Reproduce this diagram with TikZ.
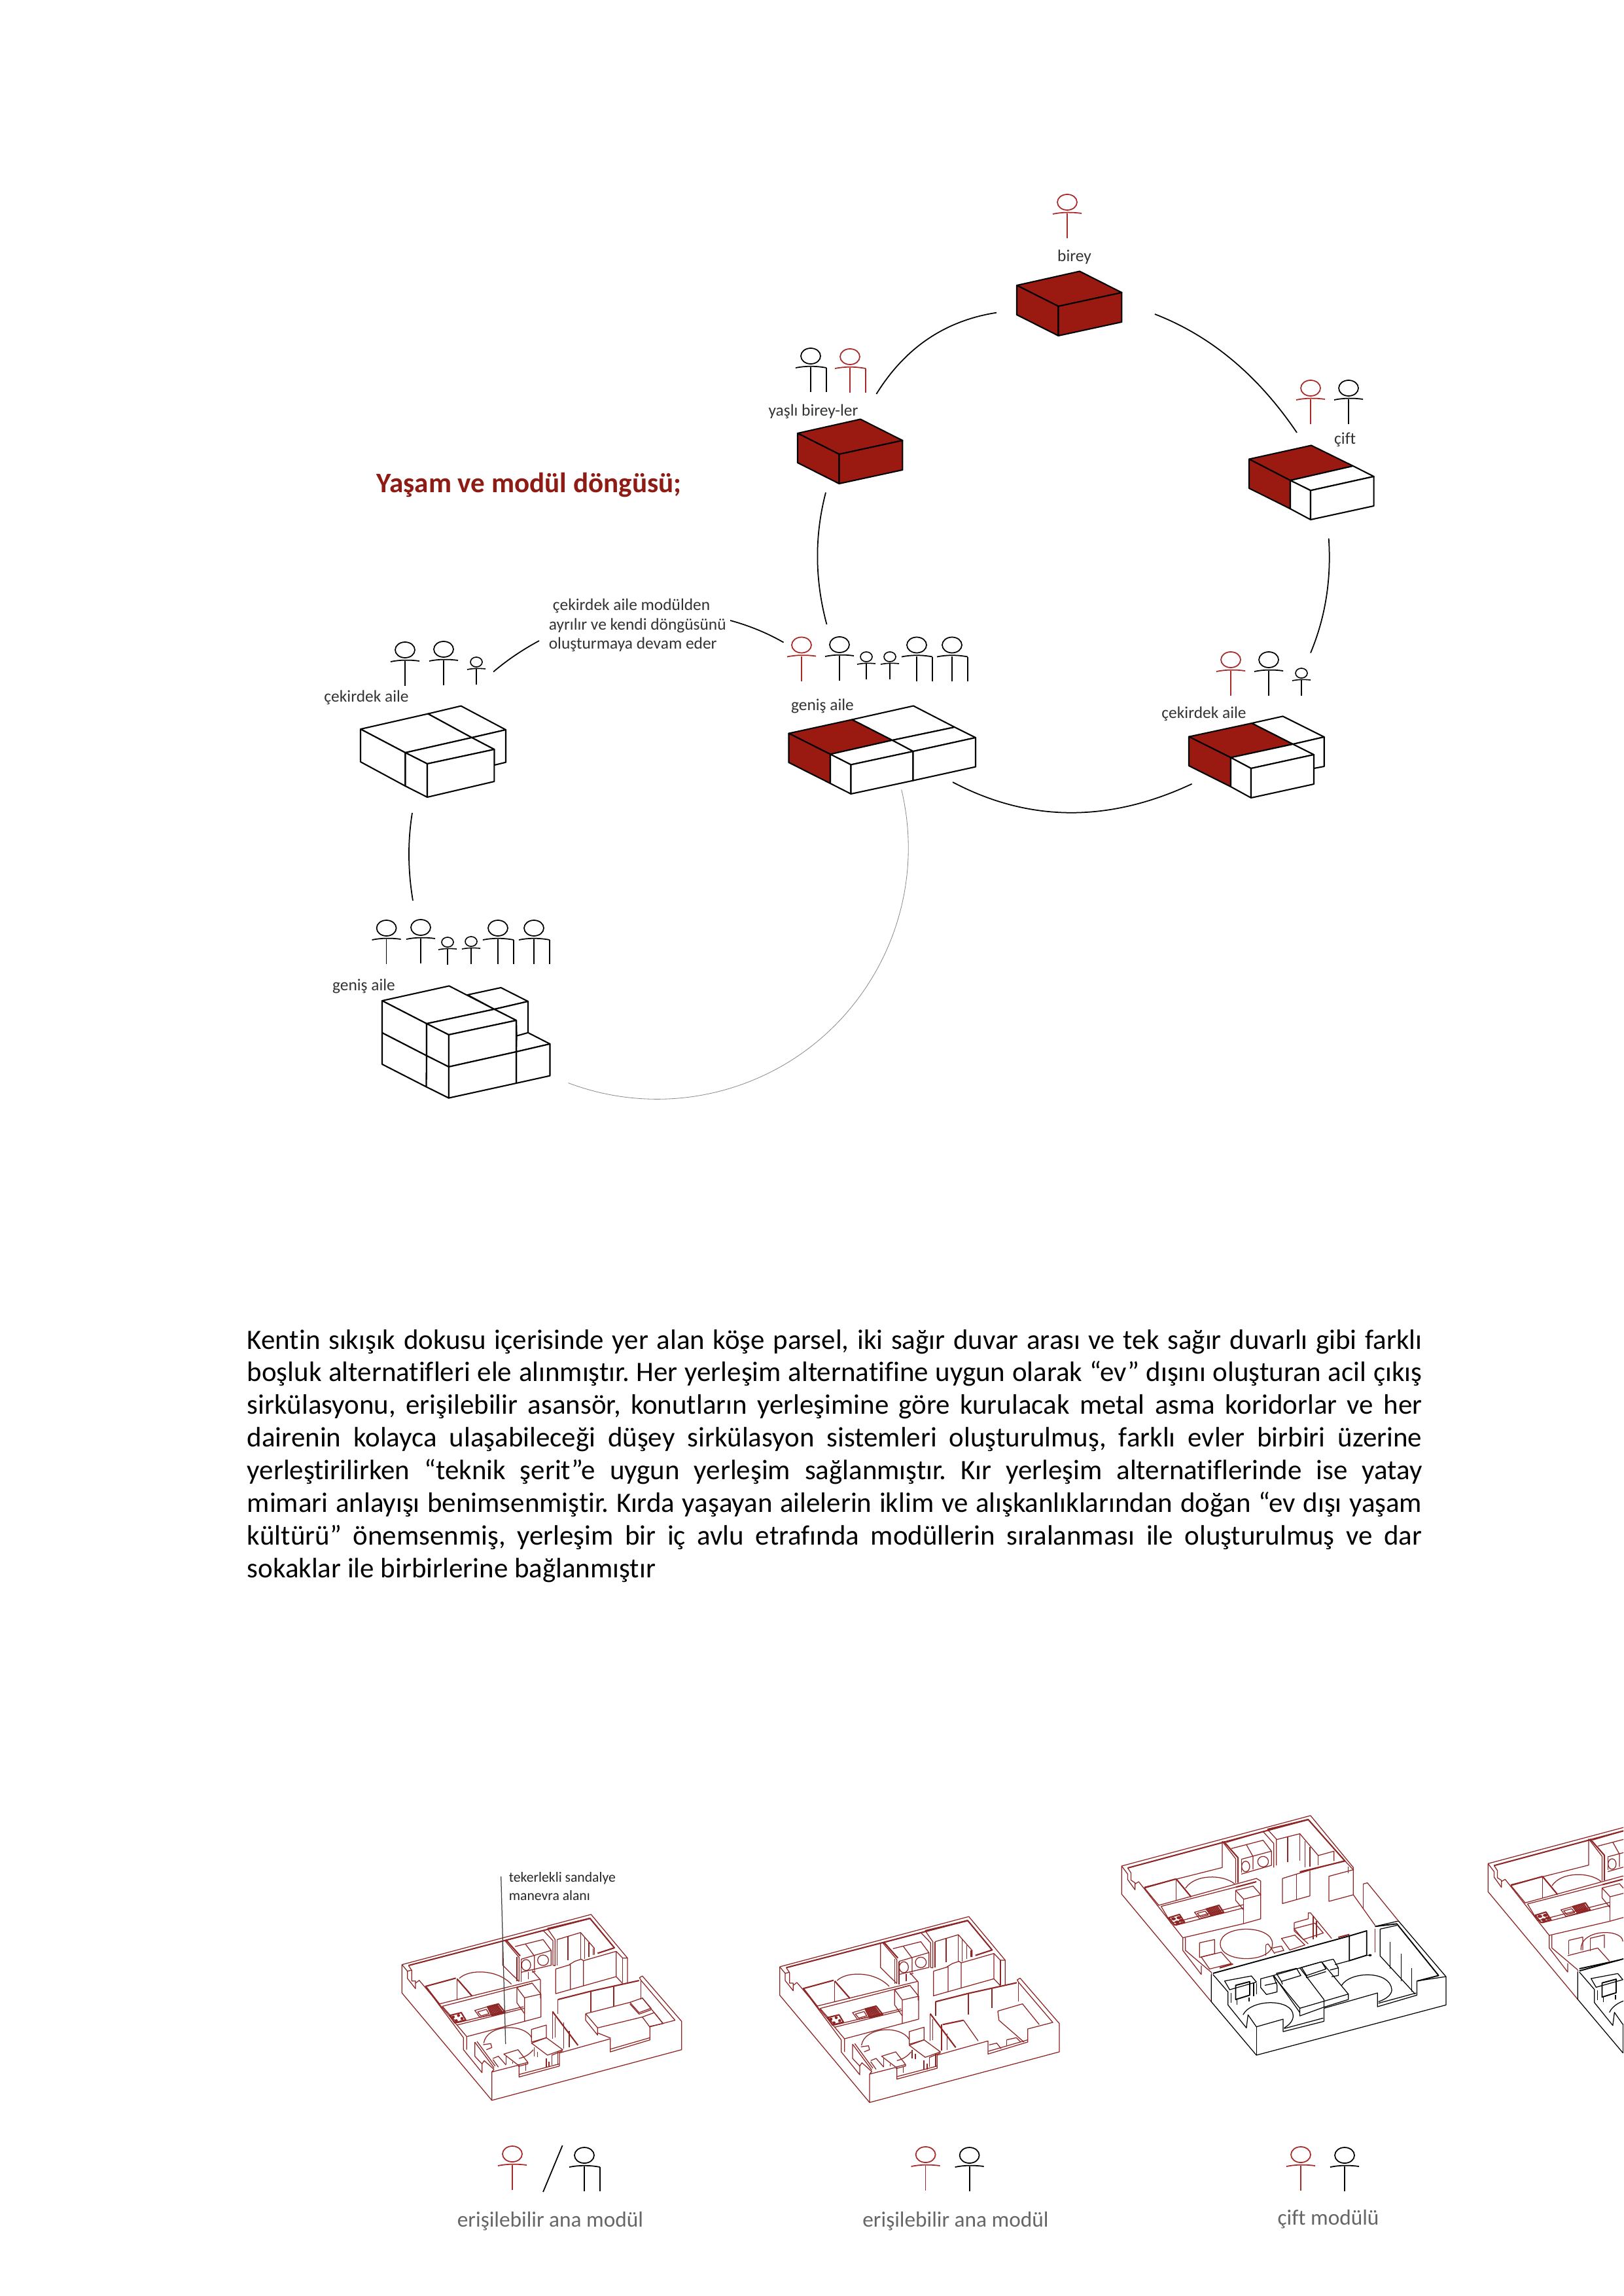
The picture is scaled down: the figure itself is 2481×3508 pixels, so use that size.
\documentclass[tikz,border=0pt]{standalone}
\usepackage{fontspec}
\setmainfont{Carlito}[Ligatures=NoCommon]
\usetikzlibrary{calc}
\definecolor{modred}{HTML}{9A1A12}
\definecolor{figred}{HTML}{A82A28}
\definecolor{planred}{HTML}{8E2525}
\definecolor{titlered}{HTML}{8F1B15}
\tikzset{
  box/.style={draw=black,line width=0.5pt,line join=round,fill=white},
  rbox/.style={draw=black,line width=0.5pt,line join=round,fill=modred},
  link/.style={draw=black,line width=0.42pt},
  greylink/.style={draw=black!45,line width=0.2pt},
  lab/.style={inner sep=0pt,font=\fontsize{6.1pt}{7pt}\selectfont,text=black!80},
  note/.style={inner sep=0pt,anchor=west,font=\fontsize{6.1pt}{7pt}\selectfont,text=black!80},
  bodyline/.style={inner sep=0pt,anchor=base west,font=\fontsize{10.3pt}{12pt}\selectfont\frenchspacing,text=black},
  captext/.style={inner sep=0pt,font=\fontsize{8pt}{9pt}\selectfont,text=black!60},
  pl/.style={draw=planred,line width=0.3pt,line join=round},
  plk/.style={draw=black,line width=0.3pt,line join=round},
  plthick/.style={draw=planred,line width=0.5pt,line join=round},
  plkthick/.style={draw=black,line width=0.45pt,line join=round}
}
\newcommand\bend[3]{(#1) .. controls ($(#1)!0.667!(#2)$) and ($(#3)!0.667!(#2)$) .. (#3)}
\newcommand\humA[3]{\begin{scope}[shift={(#1,#2)},draw=#3,line width=0.42pt]
 \draw (0,-17) ellipse [x radius=15,y radius=12];
 \draw (-22,1) .. controls (-8,-2) and (8,-2) .. (22,0);
 \draw (0,0) -- (0,38);\end{scope}}
\newcommand\humC[3]{\begin{scope}[shift={(#1,#2)},draw=#3,line width=0.42pt]
 \draw (0,-17) ellipse [x radius=15,y radius=12];
 \draw (-23,1) .. controls (-8,-2) and (8,-2) .. (24,1);
 \draw (0,0) -- (0,38);\draw (24,1) -- (24,38);\end{scope}}
\newcommand\humK[3]{\begin{scope}[shift={(#1,#2)},draw=#3,line width=0.38pt]
 \draw (0,-10.5) ellipse [x radius=9,y radius=7.5];
 \draw (-14,1) .. controls (-5,-1) and (5,-1) .. (14,0);
 \draw (0,0) -- (0,24);\end{scope}}
\newcommand\redbox[2]{\begin{scope}[shift={(#1,#2)}]
 \filldraw[rbox] (0,0) -- (96,-21.5) -- (160.4,11) -- (63.5,32) -- cycle;
 \filldraw[rbox] (0,0) -- (63.5,32) -- (63.5,77) -- (0,45) -- cycle;
 \filldraw[rbox] (63.5,32) -- (160.4,11) -- (160.4,56) -- (63.5,77) -- cycle;\end{scope}}
% --- plan with the layout of the first two units, coordinates of the 3x crop
\newcommand\plancommon{%
 \draw[pl] (103,545) -- (970,315) -- (1137,515) -- (1137,628);
 \draw[pl] (103,545) -- (103,675) -- (515,1167) -- (515,1037);
 \draw[pl] (515,1167) -- (1385,935) -- (1385,805) -- (1205,597) -- (1192,605) -- (1198,616);
 \draw[plthick] (133,549) -- (965,333) -- (1077,468) -- (1000,493);
 \draw[pl] (103,545) -- (128,575) -- (128,608) -- (165,655) -- (165,620) -- (148,620) -- (148,572) -- (133,549);
 \draw[pl] (128,575) -- (148,570);
 \draw[pl] (165,630) -- (182,617) -- (400,875) -- (400,935);
 \draw[pl] (210,645) -- (385,880) -- (385,935) -- (470,1040) -- (470,1000) -- (480,985) -- (525,1025) -- (515,1037) -- (640,1005) -- (640,1060) -- (825,1010) -- (825,950) -- (1058,885) -- (1058,945) -- (1240,890) -- (1240,830) -- (1355,800) -- (1198,616);
 \draw[pl] (642,1048) -- (825,1000);\draw[pl] (1060,932) -- (1240,880);
 \draw[plthick] (210,645) -- (350,607);
 \draw[pl] (215,647) -- (275,725) -- (735,612);
 \draw[pl] (355,610) -- (355,705);\draw[plthick] (355,610) -- (425,690);
 \draw[pl] (366,608) .. controls (410,565) and (540,565) .. (605,635);
 \draw[pl] (288,736) -- (700,630);
 \draw[pl] (288,736) -- (355,812) -- (660,738);
 \draw[pl] (355,822) -- (665,745);\draw[pl] (400,875) -- (665,805);
 \draw[pl] (575,435) -- (640,512) -- (640,622);\draw[plthick] (580,432) -- (645,505);
 \draw[pl] (630,510) -- (630,622);
 \draw[pl] (565,437) -- (565,548) -- (640,622);\draw[pl] (575,435) -- (750,388) -- (795,435) -- (795,548);
 \draw[pl] (622,462) -- (750,430) -- (787,480) -- (650,520);
 \draw[pl] (670,452) -- (710,505) -- (710,572);\draw[pl] (650,520) -- (650,625);
 \draw[pl] (787,480) -- (787,548) -- (650,580);
 \draw[pl] (672,547) ellipse [x radius=21,y radius=25];\draw[pl] (750,525) ellipse [x radius=25,y radius=24];
 \draw[pl] (683,578) -- (683,612);\draw[pl] (700,572) -- (738,615) -- (738,700);\draw[pl] (715,575) -- (700,580);
 \draw[plthick] (770,380) -- (965,333);\draw[pl] (770,380) -- (805,430) -- (805,550) -- (795,548);
 \draw[pl] (815,430) -- (922,398) -- (985,470) -- (985,500);
 \draw[pl] (815,430) -- (815,548);\draw[plthick] (865,415) -- (865,525);\draw[pl] (922,398) -- (922,520);
 \draw[pl] (940,418) -- (940,520);\draw[pl] (960,445) -- (960,510);\draw[pl] (980,470) -- (980,500);
 \draw[pl] (1085,484) -- (1115,515) -- (1137,515);\draw[pl] (1115,515) -- (1115,628);\draw[pl] (1085,484) -- (1085,600) -- (1115,632);
 \draw[pl] (808,565) -- (875,545) -- (875,660);\draw[pl] (808,565) -- (808,678) -- (1085,600);
 \draw[pl] (870,545) -- (895,530) -- (925,520) -- (935,527) -- (935,643);\draw[pl] (935,527) -- (1085,484);
 \draw[plthick] (818,705) -- (968,667) -- (1190,618);
 \draw[pl] (818,705) -- (818,770);\draw[plthick] (968,668) -- (968,765);\draw[plthick] (1075,642) -- (1075,735);\draw[pl] (1198,616) -- (1198,705);
 % kitchen tall unit
 \draw[pl] (630,650) -- (700,630) -- (740,680) -- (665,697) -- cycle;
 \draw[pl] (630,650) -- (630,720) -- (665,770);\draw[pl] (665,697) -- (665,805) -- (740,785) -- (740,680);
 % stove, sink, drainer
 \draw[plthick] (322,778) -- (375,765) -- (395,798) -- (345,812) -- cycle;
 \fill[planred] (338,785) circle (7);\fill[planred] (362,778) circle (7);\fill[planred] (352,802) circle (7);\fill[planred] (378,792) circle (7);
 \draw[pl] (437,755) -- (495,738) -- (515,775) -- (460,787) -- cycle;\draw[pl] (450,762) -- (490,750) -- (502,770) -- (465,780) -- cycle;
 \draw[plthick] (495,738) -- (545,725) -- (575,763) -- (515,778) -- cycle;
 \foreach \t in {0.12,0.24,0.36,0.48,0.6,0.72,0.84}{\draw[plthick] ($(495,738)!\t!(545,725)$) -- ($(515,778)!\t!(575,763)$);}
 % dining
 \draw[pl] (478,905) .. controls (490,820) and (660,810) .. (698,880);\draw[pl] (705,935) .. controls (690,955) and (665,970) .. (640,975);
 \draw[pl] (437,900) -- (525,1018);\draw[pl] (437,900) -- (437,965) -- (470,1000);\draw[pl] (447,897) -- (530,1010);
 \draw[pl] (475,912) -- (510,907) -- (515,925) -- (490,935);\draw[pl] (520,975) -- (545,965) -- (580,1005);\draw[pl] (545,1015) -- (520,980);
 \draw[pl] (570,955) -- (635,935) -- (680,993) -- (635,1005) -- cycle;\draw[pl] (580,965) -- (580,1003);\draw[pl] (610,990) -- (610,1000);\draw[pl] (670,1000) -- (670,1032);\draw[pl] (680,993) -- (680,1000) -- (635,1012);
 \draw[pl] (697,842) -- (765,822) -- (765,880) -- (697,900) -- cycle;
 \draw[pl] (697,905) -- (765,880) -- (840,935) -- (770,960) -- cycle;
 \draw[pl] (710,925) -- (710,965);\draw[pl] (725,945) -- (725,968);\draw[plthick] (765,975) -- (765,1015);\draw[plthick] (778,990) -- (778,1015);
 \draw[pl] (790,960) -- (790,1005);\draw[pl] (790,960) -- (840,940);\draw[pl] (818,945) -- (818,1005);
 \draw[pl] (793,760) -- (793,885);\draw[plthick] (793,760) -- (910,915);\draw[pl] (805,785) -- (805,880);
 \draw[pl] (845,810) -- (845,930);\draw[pl] (870,850) -- (870,925);}
% --- plan with the taller layout of the third and fourth units
\newcommand\plantall{%
 \draw[pl] (67,303) -- (632,72) -- (760,310) -- (760,435) -- (687,465) -- (687,350) -- (760,320);
 \draw[pl] (67,303) -- (67,432) -- (335,925);
 \draw[plthick] (85,312) -- (625,90) -- (735,280) -- (600,330);
 \draw[pl] (67,303) -- (85,340) -- (85,365) -- (107,412) -- (107,380) -- (95,368) -- (95,335) -- (85,312);
 \draw[pl] (107,385) -- (118,375) -- (250,632) -- (250,690) -- (305,800) -- (305,760);
 \draw[pl] (258,632) -- (258,690) -- (335,790);
 \draw[plthick] (135,403) -- (230,362);\draw[pl] (135,403) -- (178,483) -- (470,360) -- (483,372) -- (483,545) -- (432,567);
 \draw[pl] (230,362) -- (230,462);\draw[plthick] (230,362) -- (275,445);
 \draw[pl] (258,405) .. controls (285,340) and (370,340) .. (405,385);
 \draw[pl] (368,190) -- (368,310) -- (135,400);\draw[plthick] (372,190) -- (415,265) -- (415,380);\draw[pl] (368,190) -- (408,270) -- (408,382);
 \draw[pl] (380,195) -- (490,145) -- (522,200) -- (522,310);\draw[pl] (395,223) -- (490,185) -- (515,235) -- (425,272);
 \draw[pl] (440,205) -- (460,260) -- (460,318);\draw[pl] (425,272) -- (425,332);\draw[pl] (515,235) -- (515,300) -- (425,340);
 \draw[pl] (438,305) ellipse [x radius=12,y radius=24];\draw[pl] (490,283) ellipse [x radius=16,y radius=24];
 \draw[pl] (503,135) -- (530,180) -- (530,300);\draw[plthick] (503,135) -- (625,90);
 \draw[pl] (530,182) -- (600,155) -- (655,255) -- (702,235) -- (702,280);
 \draw[plthick] (563,170) -- (563,285);\draw[pl] (600,155) -- (600,280);\draw[pl] (615,190) -- (615,310);\draw[pl] (630,215) -- (630,305);\draw[pl] (655,255) -- (655,300);
 \draw[pl] (735,280) -- (760,320);\draw[pl] (745,305) -- (745,335);
 \draw[pl] (548,360) -- (590,340) -- (630,322) -- (735,278);
 \draw[pl] (548,360) -- (548,475) -- (630,440) -- (630,325);\draw[pl] (590,340) -- (590,455);
 \draw[pl] (600,330) -- (625,320);
 % kitchen
 \draw[pl] (185,488) -- (408,400);\draw[pl] (185,488) -- (215,565) -- (432,480);\draw[pl] (228,575) -- (432,495);
 \draw[pl] (250,632) -- (432,567);\draw[plthick] (408,400) -- (470,375);
 \draw[pl] (408,415) -- (460,395) -- (483,435) -- (432,455) -- cycle;\draw[pl] (408,415) -- (408,460) -- (432,505);\draw[pl] (432,455) -- (432,567);
 \draw[plthick] (208,540) -- (240,525) -- (255,560) -- (225,573) -- cycle;
 \fill[planred] (222,545) circle (7);\fill[planred] (238,540) circle (7);\fill[planred] (233,560) circle (7);\fill[planred] (245,553) circle (7);
 \draw[pl] (285,515) -- (320,500) -- (335,530) -- (300,545) -- cycle;\draw[pl] (293,520) -- (317,510) -- (326,527) -- (303,537) -- cycle;
 \draw[plthick] (320,500) -- (358,483) -- (372,515) -- (335,530) -- cycle;
 \foreach \t in {0.12,0.24,0.36,0.48,0.6,0.72,0.84}{\draw[plthick] ($(320,500)!\t!(358,483)$) -- ($(335,530)!\t!(372,515)$);}
 % partition toward black part
 \draw[pl] (335,925) -- (335,790);
 % lower unit, walls
 \draw[plk] (335,800) -- (335,925) -- (470,1170) -- (1037,940) -- (1037,810) -- (895,555) -- (825,580);
 \draw[plk] (470,1170) -- (470,1040);
 \draw[plk] (470,1040) -- (550,1005) -- (550,1062) -- (672,1015) -- (672,955) -- (832,885) -- (832,948) -- (950,895) -- (950,830) -- (1037,810);
 \draw[plk] (553,1048) -- (670,1000);\draw[plk] (835,932) -- (948,885);
 \draw[plk] (470,1040) -- (445,985) -- (440,1045) -- (385,940) -- (385,880) -- (340,800);
 \draw[plkthick] (340,795) -- (745,625);
 \draw[plkthick] (825,580) -- (890,568) -- (1015,805) -- (952,830);
 \draw[plk] (840,592) -- (890,575);\draw[plk] (840,592) -- (840,715) -- (945,890);}
\begin{document}
\begin{tikzpicture}[x=0.24pt,y=-0.24pt]
\clip (0,0) rectangle (2481,3508);
\fill[white] (0,0) rectangle (2481,3508);
% title
\node[inner sep=0pt,anchor=west,font=\fontsize{10.35pt}{12pt}\selectfont\bfseries,text=titlered] (title) at (575,741) {Yaşam ve modül döngüsü;};
% modules
\redbox{1554}{436}
\redbox{1219}{662}
% cift
\filldraw[rbox] (1909,701.5) -- (2004,680.5) -- (2068,712) -- (1972,734) -- cycle;
\filldraw[rbox] (1909,701.5) -- (1972,734) -- (1972,777.4) -- (1909,746) -- cycle;
\filldraw[box] (2068,712) -- (2099.6,728) -- (2003,749.4) -- (1972,734) -- cycle;
\filldraw[box] (1972,734) -- (2003,749.4) -- (2003,794) -- (1972,777.4) -- cycle;
\filldraw[box] (2003,749.4) -- (2099.6,728) -- (2099.6,773) -- (2003,794) -- cycle;
% cekirdek right
\filldraw[box] (1913,1105) -- (1960.6,1094.4) -- (2023.7,1126) -- (1976,1137) -- cycle;
\filldraw[box] (1976,1137) -- (2023.7,1126) -- (2023.7,1171) -- (2008,1174) -- cycle;
\filldraw[rbox] (1817,1125.6) -- (1913,1105) -- (1976,1137) -- (1881,1157.5) -- cycle;
\filldraw[rbox] (1817,1125.6) -- (1881,1157.5) -- (1881,1202) -- (1817,1170) -- cycle;
\filldraw[box] (1881,1157.5) -- (1976,1137) -- (2008,1153) -- (1912,1174) -- cycle;
\filldraw[box] (1881,1157.5) -- (1912,1174) -- (1912,1219) -- (1881,1202) -- cycle;
\filldraw[box] (1912,1174) -- (2008,1153) -- (2008,1198) -- (1912,1219) -- cycle;
% genis right
\filldraw[box] (1302,1099.5) -- (1396,1078.5) -- (1459,1111) -- (1363.6,1131) -- cycle;
\filldraw[box] (1363.6,1131) -- (1459,1111) -- (1491,1127) -- (1395.5,1148) -- cycle;
\filldraw[rbox] (1205.5,1120.5) -- (1302,1099.5) -- (1363.6,1131) -- (1269,1152.4) -- cycle;
\filldraw[rbox] (1205.5,1120.5) -- (1269,1152.4) -- (1269,1197) -- (1205.5,1165) -- cycle;
\filldraw[box] (1269,1152.4) -- (1363.6,1131) -- (1395.5,1148) -- (1300.5,1168.4) -- cycle;
\filldraw[box] (1269,1152.4) -- (1300.5,1168.4) -- (1300.5,1213) -- (1269,1197) -- cycle;
\filldraw[box] (1300.5,1168.4) -- (1395.5,1148) -- (1395.5,1192.6) -- (1300.5,1213) -- cycle;
\filldraw[box] (1395.5,1148) -- (1491,1127) -- (1491,1171.6) -- (1395.5,1192.6) -- cycle;
% cekirdek left
\filldraw[box] (654,1090.6) -- (704.5,1078.6) -- (773,1115) -- (721,1127) -- cycle;
\filldraw[box] (721,1127) -- (773,1115) -- (773,1164.7) -- (755.4,1169) -- (755.4,1145) -- cycle;
\filldraw[box] (551,1114) -- (654,1090.6) -- (721,1127) -- (619.5,1150) -- cycle;
\filldraw[box] (551,1114) -- (619.5,1150) -- (619.5,1201) -- (551,1164) -- cycle;
\filldraw[box] (619.5,1150) -- (721,1127) -- (755.4,1145) -- (653,1167) -- cycle;
\filldraw[box] (619.5,1150) -- (653,1167) -- (653,1218) -- (619.5,1201) -- cycle;
\filldraw[box] (653,1167) -- (755.4,1145) -- (755.4,1194) -- (653,1218) -- cycle;
% stack bottom left
\filldraw[box] (714.6,1520) -- (765.5,1509) -- (807,1530) -- (755.4,1542) -- cycle;
\filldraw[box] (755.4,1542) -- (807,1530) -- (807,1579.4) -- (789.6,1582.7) -- (789,1559) -- cycle;
\filldraw[box] (789.6,1582.7) -- (807,1577.8) -- (840.5,1595) -- (789,1607) -- cycle;
\filldraw[box] (789,1607) -- (840.5,1595) -- (840.5,1643.6) -- (789,1655) -- cycle;
\filldraw[box] (584,1529) -- (686.4,1506.4) -- (755.4,1542) -- (652,1564) -- cycle;
\filldraw[box] (584,1529) -- (652,1564) -- (652,1613) -- (584,1578) -- cycle;
\filldraw[box] (584,1578) -- (652,1613) -- (651.6,1660.6) -- (584,1626) -- cycle;
\filldraw[box] (652,1564) -- (755.4,1542) -- (789,1559) -- (685.8,1581) -- cycle;
\filldraw[box] (652,1564) -- (685.8,1581) -- (685.8,1630) -- (652,1613) -- cycle;
\filldraw[box] (652,1613) -- (685.8,1630) -- (685.8,1677.6) -- (651.6,1660.6) -- cycle;
\filldraw[box] (685.8,1581) -- (789,1559) -- (789,1607) -- (685.8,1630) -- cycle;
\filldraw[box] (685.8,1630) -- (789,1607) -- (789,1655) -- (685.8,1677.6) -- cycle;
% cycle arcs
\coordinate (a1) at (1523,477.7);\coordinate (a2) at (1339.4,602);\coordinate (c1) at (1405,496);
\coordinate (b1) at (1765,480);\coordinate (b2) at (1982,661);\coordinate (c2) at (1893,529.5);
\coordinate (d1) at (2030.7,822.7);\coordinate (d2) at (2003,997.5);\coordinate (c3) at (2037,916);
\coordinate (e1) at (1821.6,1197.7);\coordinate (e2) at (1456,1195);\coordinate (c4) at (1630.6,1287);
\coordinate (f1) at (1262,752.5);\coordinate (f2) at (1263.5,954);\coordinate (c5) at (1236,852);
\coordinate (g1) at (824,979);\coordinate (g2) at (754,1026.5);\coordinate (c6) at (785,1000);
\coordinate (h1) at (1116,948);\coordinate (h2) at (1197.5,981.5);\coordinate (c7) at (1160,960);
\coordinate (i1) at (630,1242);\coordinate (i2) at (631,1376);\coordinate (c8) at (619.5,1307);
\coordinate (j1) at (1377.7,1206.4);
\draw[link] \bend{a1}{c1}{a2};
\draw[link] \bend{b1}{c2}{b2};
\draw[link] \bend{d1}{c3}{d2};
\draw[link] \bend{e1}{c4}{e2};
\draw[link] \bend{f1}{c5}{f2};
\draw[link] \bend{g1}{c6}{g2};
\draw[link] \bend{h1}{c7}{h2};
\draw[link] \bend{i1}{c8}{i2};
\draw[greylink] (j1) arc[start angle=-13.4,end angle=110.7,radius=384];
% people
\humA{1631}{326}{figred}
\humC{1239}{561}{black}\humC{1299}{562}{figred}
\humA{2003}{610}{figred}\humA{2061}{610}{black}
\humA{1881}{1025}{figred}\humA{1939}{1025}{black}\humK{1989}{1039}{black}
\humA{1225}{1002.5}{figred}\humA{1283}{1002}{black}\humK{1324}{1014}{black}\humK{1360}{1014}{black}\humC{1401}{1002.5}{black}\humC{1455}{1002.5}{black}
\humA{619}{1010}{black}\humA{678}{1009}{black}\humK{728}{1022}{black}
\humA{590.6}{1435}{black}\humA{643}{1434}{black}\humK{684}{1450}{black}\humK{720}{1449}{black}\humC{761}{1435}{black}\humC{816}{1435}{black}
\humA{783}{3308}{figred}\humC{893}{3310}{black}
\humA{1414.6}{3309}{figred}\humA{1481.6}{3310}{black}
\humA{1988}{3309}{figred}\humA{2055}{3310}{black}
\coordinate (sl1) at (859.6,3278);\coordinate (sl2) at (830,3349);
\draw[line width=0.42pt] (sl1) -- (sl2);
% labels
\node[lab] (l1) at (1642,393) {birey};
\node[lab] (l2) at (1243,629) {yaşlı birey-ler};
\node[lab] (l3) at (2055.6,672) {çift};
\node[lab] (l4) at (1257,1079) {geniş aile};
\node[lab] (l5) at (1840,1091) {çekirdek aile};
\node[lab] (l6) at (560,1066) {çekirdek aile};
\node[lab] (l7) at (556,1507) {geniş aile};
\node[note] (n1) at (844,926) {çekirdek aile modülden};
\node[note] (n2) at (838,956) {ayrılır ve kendi döngüsünü};
\node[note] (n3) at (838,985) {oluşturmaya devam eder};
% body
\node[bodyline] (t1) at (377,2061) {\hbox to 431pt{Kentin sıkışık dokusu içerisinde yer alan köşe parsel, iki sağır duvar arası ve tek sağır duvarlı gibi farklı}};
\node[bodyline] (t2) at (377,2110.5) {\hbox to 431pt{boşluk alternatifleri ele alınmıştır. Her yerleşim alternatifine uygun olarak “ev” dışını oluşturan acil çıkış}};
\node[bodyline] (t3) at (377,2160.5) {\hbox to 431pt{sirkülasyonu, erişilebilir asansör, konutların yerleşimine göre kurulacak metal asma koridorlar ve her}};
\node[bodyline] (t4) at (377,2210.5) {\hbox to 431pt{dairenin kolayca ulaşabileceği düşey sirkülasyon sistemleri oluşturulmuş, farklı evler birbiri üzerine}};
\node[bodyline] (t5) at (377,2260.5) {\hbox to 431pt{yerleştirilirken “teknik şerit”e uygun yerleşim sağlanmıştır. Kır yerleşim alternatiflerinde ise yatay}};
\node[bodyline] (t6) at (377,2310.5) {\hbox to 431pt{mimari anlayışı benimsenmiştir. Kırda yaşayan ailelerin iklim ve alışkanlıklarından doğan “ev dışı yaşam}};
\node[bodyline] (t7) at (377,2360) {\hbox to 431pt{kültürü” önemsenmiş, yerleşim bir iç avlu etrafında modüllerin sıralanması ile oluşturulmuş ve dar}};
\node[bodyline] (t8) at (377,2410) {sokaklar ile birbirlerine bağlanmıştır};
% plan 1
\begin{scope}[shift={(580,2820)},x=0.08pt,y=-0.08pt]
\plancommon
\draw[pl] (945,770) -- (1148,718);\draw[pl] (945,770) -- (945,800) -- (1000,868) -- (1000,835) -- (945,770);
\draw[pl] (1000,835) -- (1205,785) -- (1240,832);\draw[pl] (1000,858) -- (1060,882);
\draw[pl] (1148,718) -- (1205,698) -- (1245,745) -- (1190,765) -- cycle;\draw[pl] (1148,725) -- (1190,772) -- (1245,752);
\draw[pl] (1205,785) -- (1260,765) -- (1300,815) -- (1240,828);
\draw[pl] (1205,698) -- (1300,815);
\end{scope}
% plan 2 (same layout, other furniture)
\begin{scope}[shift={(1157.3,2823.3)},x=0.08pt,y=-0.08pt]
\plancommon
\draw[pl] (1103,748) -- (1216,715) -- (1293,810);\draw[pl] (1103,748) -- (1108,790) -- (1223,890);
\draw[pl] (946,790) -- (1013,885);\draw[plthick] (850,810) -- (946,790);
\draw[pl] (1063,903) -- (1098,895) -- (1118,920);\draw[pl] (1143,880) -- (1188,870) -- (1208,890);\draw[pl] (1143,880) -- (1143,905);
\end{scope}
% plan 3
\begin{scope}[shift={(1680,2750)},x=0.12264pt,y=-0.08pt]
\plantall
\draw[pl] (760,435) -- (825,575);\draw[pl] (790,385) -- (790,500);\draw[pl] (790,385) -- (802,380) -- (895,555);
\draw[pl] (825,590) -- (825,700);
\draw[pl] (362,660) .. controls (362,570) and (518,570) .. (518,660) .. controls (518,750) and (362,750) .. (362,660);
\draw[pl] (300,655) -- (345,640) -- (345,705) -- (300,722) -- cycle;
\draw[pl] (305,720) -- (365,698) -- (395,750) -- (330,775) -- cycle;\draw[plthick] (360,770) -- (400,752);
\draw[pl] (583,563) -- (625,545) -- (625,518) -- (632,518) -- (695,635);\draw[pl] (583,563) -- (583,600) -- (625,660);
\draw[pl] (583,590) -- (645,565) -- (670,610) -- (610,640) -- cycle;
\draw[pl] (545,635) -- (585,620) -- (615,665) -- (570,688) -- cycle;
\draw[pl] (498,665) -- (505,660) -- (525,705);\draw[pl] (498,665) -- (498,715);\draw[pl] (515,680) -- (545,670) -- (552,690) -- (525,700);
\draw[pl] (640,530) -- (640,640);\draw[plthick] (650,555) -- (650,630);
\draw[plkthick] (745,625) -- (800,600) -- (800,712) -- (748,737) -- (748,625);
\fill (810,712) circle (5);\draw[plthick] (715,630) -- (748,617);\draw[plk] (800,712) -- (810,712);
\draw[plk] (748,737) -- (705,755);
\draw[plk] (870,650) -- (870,775);\draw[plk] (903,705) -- (903,830);\draw[plk] (935,770) -- (935,880);
\draw[plk] (725,850) .. controls (750,785) and (870,780) .. (875,870) .. controls (875,895) and (855,915) .. (835,925);
\draw[plk] (430,985) .. controls (455,910) and (580,910) .. (580,990) .. controls (580,1015) and (565,1035) .. (553,1045);
\draw[plk] (520,805) -- (665,742) -- (745,890) -- (600,955) -- cycle;
\draw[plk] (600,955) -- (600,990) -- (672,950) -- (745,915) -- (745,890);\draw[plk] (600,770) -- (672,915) -- (672,950);
\draw[plk] (522,805) -- (600,975);
\draw[plk] (530,795) -- (590,772) -- (603,805) -- (545,832) -- cycle;\draw[plk] (545,832) -- (548,845);
\draw[plk] (605,768) -- (665,742) -- (678,775) -- (620,805) -- cycle;\draw[plk] (620,805) -- (620,815) -- (678,787);
\draw[plk] (483,820) -- (520,805) -- (532,850) -- (532,880) -- (500,892) -- (483,860) -- cycle;\draw[plk] (495,850) -- (532,838);
\draw[plk] (668,742) -- (700,730) -- (715,770) -- (715,805) -- (695,810);\draw[plk] (690,780) -- (715,770);
\draw[plk] (375,830) -- (455,807) -- (470,835) -- (390,870) -- cycle;\draw[plk] (385,880) -- (385,940);
\draw[plkthick] (408,850) -- (450,833) -- (450,895) -- (408,915) -- cycle;
\draw[plk] (395,885) -- (395,930);\draw[plk] (412,915) -- (412,938);\draw[plk] (448,905) -- (448,925);\draw[plk] (462,840) -- (462,900);\draw[plk] (470,840) -- (470,890);
\end{scope}
% plan 4, runs off the page
\begin{scope}[shift={(2240,2746.3)},x=0.12264pt,y=-0.08pt]
\plantall
\draw[pl] (345,700) .. controls (340,600) and (470,600) .. (470,660);
\draw[pl] (308,655) -- (350,640) -- (350,700);\draw[pl] (308,655) -- (308,720);
\draw[pl] (373,645) -- (415,630) -- (415,690);\draw[pl] (373,645) -- (373,705);
\draw[pl] (305,725) -- (395,690) -- (430,750);
\draw[plkthick] (340,785) -- (460,745);
\draw[plk] (375,830) -- (455,807) -- (470,835) -- (390,870) -- cycle;\draw[plk] (385,880) -- (385,940);
\draw[plkthick] (408,850) -- (450,833) -- (450,895) -- (408,915) -- cycle;
\draw[plk] (395,885) -- (395,930);\draw[plk] (412,915) -- (412,938);\draw[plk] (448,905) -- (448,925);
\draw[plk] (430,985) .. controls (440,950) and (470,930) .. (490,925);
\end{scope}
% plan caption and leader
\node[inner sep=0pt,anchor=west,font=\fontsize{5.2pt}{6pt}\selectfont,text=black!85] (m1) at (777,2870) {tekerlekli sandalye};
\node[inner sep=0pt,anchor=west,font=\fontsize{5.2pt}{6pt}\selectfont,text=black!85] (m2) at (777,2896) {manevra alanı};
\coordinate (lead1) at (765.7,2867);\coordinate (lead2) at (772.7,3123);
\draw[draw=black!75,line width=0.3pt] (lead1) -- (lead2);
% captions
\node[captext] (k1) at (841,3394) {erişilebilir ana modül};
\node[captext] (k2) at (1460.5,3394) {erişilebilir ana modül};
\node[captext] (k3) at (2030,3391) {çift modülü};
\end{tikzpicture}
\end{document}
